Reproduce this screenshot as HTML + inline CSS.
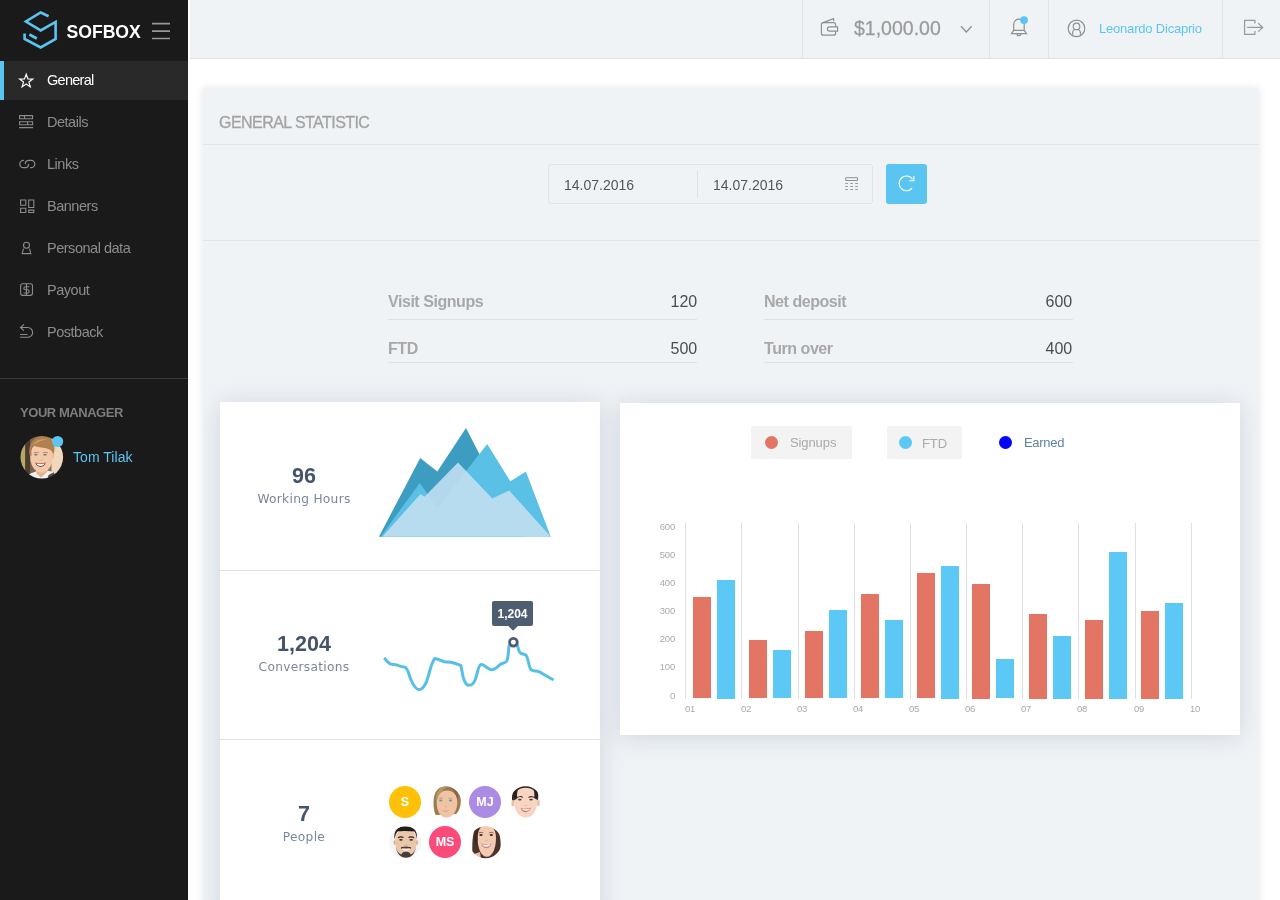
<!DOCTYPE html>
<html lang="en">
<head>
<meta charset="utf-8">
<title>Sofbox - General Statistic</title>
<style>
*{box-sizing:border-box;margin:0;padding:0}
html,body{width:1280px;height:900px;overflow:hidden;background:#fff;font-family:"Liberation Sans",sans-serif;}
.abs{position:absolute}
#sidebar{position:absolute;left:0;top:0;width:188px;height:900px;background:#1a1a1a;}
#brand{position:absolute;left:66.5px;top:22px;font-size:17.6px;line-height:20px;font-weight:bold;color:#fff;letter-spacing:0}
.nav{position:absolute;left:0;width:188px;height:39px;color:#8c8c8c;font-size:14.5px;}
.nav span{position:absolute;left:47px;top:0;line-height:39px;letter-spacing:-0.48px;white-space:nowrap}
.nav svg{position:absolute;left:18px;top:11px;width:17px;height:17px;overflow:visible}
.nav.active{background:#292929;color:#fff;border-left:4px solid #5bc5f2}
.nav.active span{left:43px;letter-spacing:-0.72px}
.nav.active svg{left:14px}
#sdiv{position:absolute;left:0;top:378px;width:188px;height:1px;background:#3a3a3a}
#ymgr{position:absolute;left:20px;top:403px;font-size:13px;line-height:20px;font-weight:bold;color:#7d7d7d;letter-spacing:-0.45px;white-space:nowrap}
#mname{position:absolute;left:73px;top:447px;font-size:14px;line-height:20px;color:#5bc5f2;letter-spacing:0.05px;white-space:nowrap}
#header{position:absolute;left:190px;top:0;width:1090px;height:59px;background:#f0f3f6;border-bottom:1px solid #dfe0e1}
.hdiv{position:absolute;top:0;width:1px;height:58px;background:#e1e2e3}
#money{position:absolute;left:854px;top:16px;font-size:19.5px;line-height:24px;color:#9a9a9a;white-space:nowrap;letter-spacing:0;-webkit-text-stroke:0.25px #9a9a9a}
#uname{position:absolute;left:1099px;top:20px;font-size:13px;line-height:18px;color:#5bc5f2;white-space:nowrap;letter-spacing:-0.2px}
#panel{position:absolute;left:203px;top:88px;width:1056px;height:830px;background:#f0f3f6;box-shadow:0 0 9px rgba(0,0,0,.10);border-radius:2px;overflow:hidden}
#ptitle{position:absolute;left:219px;top:112px;font-size:16px;line-height:22px;color:#a3a3a3;letter-spacing:-0.55px;-webkit-text-stroke:0.3px #a3a3a3;white-space:nowrap}
.pline{position:absolute;left:203px;width:1056px;height:1px;background:#e2e3e5}
#dates{position:absolute;left:548px;top:164px;width:325px;height:40px;border:1px solid #e2e2e3;border-radius:3px;background:#f0f3f6}
.dtxt{position:absolute;top:175px;font-size:14px;line-height:20px;color:#555;white-space:nowrap;letter-spacing:0}
#refresh{position:absolute;left:886px;top:164px;width:41px;height:40px;background:#5bc5f2;border-radius:3px}
.slabel{position:absolute;font-size:16px;line-height:20px;font-weight:bold;color:#a8a8a8;letter-spacing:-0.45px;white-space:nowrap}
.sval{position:absolute;font-size:16px;line-height:20px;color:#4d4d4d;text-align:right;width:60px;white-space:nowrap;letter-spacing:-0.1px}
.sline{position:absolute;height:1px;background:#dfe2e5;width:309px}
#lcard{position:absolute;left:17px;top:314px;width:380px;height:520px;background:#fff;box-shadow:0 2px 24px rgba(118,138,160,.27)}
#rcard{position:absolute;left:417px;top:315px;width:620px;height:332px;background:#fff;box-shadow:0 2px 24px rgba(118,138,160,.27)}
.cdiv{position:absolute;left:220px;width:380px;height:1px;background:#dfe3ea}
.big{position:absolute;left:254px;width:100px;text-align:center;font-size:21.5px;line-height:24px;font-weight:bold;color:#45546a;white-space:nowrap}
.small{position:absolute;left:244px;width:120px;text-align:center;font-family:"DejaVu Sans","Liberation Sans",sans-serif;font-size:12.2px;line-height:18px;color:#78879b;white-space:nowrap;letter-spacing:0.3px}
.av{position:absolute;width:32px;height:32px;border-radius:50%;overflow:hidden;color:#fff;font-weight:bold;font-size:12.5px;line-height:32px;text-align:center}
.leg{position:absolute;top:426px;height:33px;background:#f3f3f3;border-radius:2px}
.legt{position:absolute;top:435px;font-size:13px;line-height:16px;white-space:nowrap;letter-spacing:-0.1px}
.dot{position:absolute;width:13px;height:13px;border-radius:50%;top:436px}
</style>
</head>
<body>
<!-- SIDEBAR -->
<div id="sidebar"></div>
<svg class="abs" style="left:0;top:0" width="188" height="60" viewBox="0 0 188 60" fill="none">
  <g stroke="#5bc5f2" stroke-width="2.6" stroke-linejoin="miter" stroke-linecap="butt" fill="none">
    <path d="M48.6 16.200 L40.700 12.500 L25.900 21.500 L40.700 30.400 L55.600 21.900 L55.600 39 L40.700 47.400 L24.600 38.900 L24.600 33.600"/>
    <path d="M29.400 34.600 L36.800 38.400" stroke-width="2.800"/>
  </g>
  <g stroke="#969696" stroke-width="1.7">
    <path d="M152 23.7H170M152 31.2H170M152 38.5H170"/>
  </g>
</svg>
<div id="brand">SOFBOX</div>

<div class="nav active" style="top:61px"><svg viewBox="0 0 17 17" fill="none" stroke="#fff" stroke-width="1.2" stroke-linejoin="miter"><path d="M8.2 2.3 L9.9 6.9 L14.8 7.1 L10.9 10.1 L12.3 14.9 L8.2 12.1 L4.1 14.9 L5.5 10.1 L1.6 7.1 L6.5 6.9 Z"/></svg><span>General</span></div>
<div class="nav" style="top:103px"><svg viewBox="0 0 17 17" fill="none" stroke="#8c8c8c" stroke-width="1.1"><path d="M1.6 1.6H14.6V4.8H1.6ZM6.5 1.6V4.8M1.6 7.8H14.6V10.8H1.6ZM9.6 7.8V10.8M1.1 13.6H15.1"/></svg><span>Details</span></div>
<div class="nav" style="top:145px"><svg viewBox="0 0 17 17" fill="none" stroke="#8c8c8c" stroke-width="1.2" stroke-linecap="round"><path d="M5.6 4.3 A3.7 3.7 0 0 0 5.4 11.7 H8.2 A3.3 3.5 0 0 0 10.6 8.3"/><path d="M7.3 7.7 A3.4 3.4 0 0 1 10.7 4.3 H13.1 A3.7 3.7 0 0 1 13.1 11.7 H12.6"/></svg><span>Links</span></div>
<div class="nav" style="top:187px"><svg viewBox="0 0 17 17" fill="none" stroke="#8c8c8c" stroke-width="1.1"><path d="M2.6 2H7.8V7.2H2.6ZM10.7 2H15.8V9.5H10.7ZM2.6 10.2H7.8V14.5H2.6ZM10.7 12.1H15.8V14.5H10.7Z"/></svg><span>Banners</span></div>
<div class="nav" style="top:229px"><svg viewBox="0 0 17 17" fill="none" stroke="#8c8c8c" stroke-width="1.1"><circle cx="8.5" cy="5.3" r="3"/><path d="M5.5 8.6 L4.2 13.6 H12.8 L11.5 8.6"/></svg><span>Personal data</span></div>
<div class="nav" style="top:271px"><svg viewBox="0 0 17 17" fill="none" stroke="#8c8c8c" stroke-width="1.1"><rect x="2.65" y="1.75" width="11.8" height="11.6" rx="2"/><path d="M8.5 1.75V13.35M11.4 4.7H7.4A1.550 1.550 0 0 0 7.400 7.800H9.600A1.600 1.600 0 0 1 9.600 11H5.600"/></svg><span>Payout</span></div>
<div class="nav" style="top:313px"><svg viewBox="0 0 17 17" fill="none" stroke="#8c8c8c" stroke-width="1.1"><path d="M6 0.4L2.500 3.500L5.900 6.600M2.500 3.500H9.700A4.900 4.900 0 0 1 9.700 13.300H2.100M2.100 10.500H9.500"/></svg><span>Postback</span></div>

<div id="sdiv"></div>
<div id="ymgr">YOUR MANAGER</div>
<svg class="abs" style="left:20px;top:435px" width="46" height="46" viewBox="0 0 46 46">
  <defs><clipPath id="mclip"><circle cx="21.8" cy="22.2" r="21.3"/></clipPath>
  <filter id="mb" x="-10%" y="-10%" width="120%" height="120%"><feGaussianBlur stdDeviation="0.45"/></filter></defs>
  <g clip-path="url(#mclip)"><g filter="url(#mb)">
    <rect x="-2" y="-2" width="50" height="50" fill="#8a735c"/>
    <rect x="-2" y="-2" width="7.2" height="50" fill="#b8a862"/>
    <rect x="5.2" y="-2" width="5.3" height="50" fill="#4b3d32"/>
    <rect x="10.500" y="-2" width="6" height="50" fill="#7d6650"/>
    <rect x="31.500" y="-2" width="16" height="50" fill="#f1d7bc"/>
    <path d="M3 46 L8 39.500 L17 36 L27 35.500 L33.500 37 L38 46Z" fill="#f1f0f0"/>
    <path d="M28.500 40 L33.800 37.200 L37 46 L27 46Z" fill="#5b4a40"/>
    <path d="M16 33 L16.500 38.500 L21 42.500 L27.500 36.500 L27.500 31Z" fill="#e2b08a"/>
    <path d="M10.400 20 C9.600 27 12.500 33 16.500 36 C19.500 38 23.500 38 26.500 36 C30.500 33 33.600 27 32.800 20 C32.600 12 28 8.500 21.600 8.500 C15 8.500 10.600 12 10.400 20Z" fill="#f3c9a9"/>
    <path d="M32.400 19.200 C34.400 18.600 34.600 22.500 32.600 24Z" fill="#eab594"/>
    <path d="M9.600 20.500 C8.200 11 12 3 20 1.200 C27 0 33.500 4 34.400 11 C34.800 15 34 18 33.200 20 C32.600 16.500 31 14.500 27 13.500 C22 12.500 17 12 13 10.500 C11.500 13 11 17 11.600 20.500Z" fill="#b27f4f"/>
    <path d="M13 10.500 C15 6 21 3 28 5 C24 4.500 17 6.500 13 10.500Z" fill="#d0a070"/>
    <path d="M13.800 18 C15 17.200 17.500 17.200 18.800 17.800M23 17.800 C24.300 17.200 26.800 17.200 28 18" stroke="#a9794f" stroke-width="0.8" fill="none"/>
    <ellipse cx="15.900" cy="19.700" rx="1.700" ry="0.850" fill="#6d7f8c"/><ellipse cx="25" cy="19.700" rx="1.700" ry="0.850" fill="#6d7f8c"/>
    <path d="M20 24.500 C20.500 25.600 22.500 25.600 23 24.500" stroke="#d9a583" stroke-width="0.8" fill="none"/>
    <path d="M15.300 27.600 C18 28.600 23 28.600 25.700 27.600 C25 30.500 23 32 20.500 32 C18 32 16 30.500 15.300 27.600Z" fill="#7a3a34"/>
    <path d="M16.300 28.300 C18.500 29 22.500 29 24.700 28.300 C24 30.300 22.500 31 20.500 31 C18.500 31 17 30.300 16.300 28.300Z" fill="#fbfbee"/>
  </g></g>
  <circle cx="37.600" cy="6.500" r="5.600" fill="#5bc5f2"/>
</svg>
<div id="mname">Tom Tilak</div>

<!-- HEADER -->
<div id="header"></div>
<div class="hdiv" style="left:802px"></div>
<div class="hdiv" style="left:989px"></div>
<div class="hdiv" style="left:1048px"></div>
<div class="hdiv" style="left:1222px"></div>
<svg class="abs" style="left:815px;top:10px" width="460" height="40" viewBox="815 10 460 40" fill="none" stroke="#8f8f8f" stroke-width="1.1">
  <!-- wallet -->
  <path d="M822.4 22.9 L833.6 18.7 V21.2" stroke-width="1.2"/>
  <path d="M835.6 26.8V24.7A2 2 0 0 0 833.6 22.7H823.4A2 2 0 0 0 821.4 24.7V33.2A2 2 0 0 0 823.4 35.2H833.6A2 2 0 0 0 835.6 33.2V31.3" stroke-width="1.2"/>
  <path d="M829.6 26.8H837.6V31.2H829.6A2.200 2.200 0 0 1 829.600 26.800Z" stroke-width="1.2"/>
  <!-- chevron -->
  <path d="M961 26.2 L966.3 32 L971.6 26.2" stroke-width="1.3"/>
  <!-- bell -->
  <path d="M1013.7 30.3V24.3A5.250 5.250 0 0 1 1024.200 24.300V30.300M1013.700 30.300H1024.200M1013.700 30.300L1011.400 33.700H1026.500L1024.200 30.300M1016.900 33.900A2 1.700 0 0 0 1020.900 33.900" stroke-width="1.2"/>
  <!-- user -->
  <circle cx="1076.5" cy="28.4" r="8.3" stroke-width="1.2"/>
  <circle cx="1076.5" cy="26.4" r="3.3" stroke-width="1.2"/>
  <path d="M1072.7 34.8V32.700C1072.700 31.400 1073.200 30.600 1074.100 30.100M1080.400 34.800V32.700C1080.400 31.400 1079.900 30.600 1079 30.100" stroke-width="1.2"/>
  <!-- logout -->
  <path d="M1254.9 23.6V20.400H1244.600V34.400H1254.900V31.100" stroke-width="1.25" stroke="#999"/>
  <path d="M1247.100 27.400H1262.500M1258.200 23.200L1262.700 27.400L1258.200 31.600" stroke-width="1.25" stroke="#999"/>
</svg>
<svg class="abs" style="left:1019px;top:15px" width="10" height="10"><circle cx="5" cy="5.1" r="3.95" fill="#5bc5f2"/></svg>
<div id="money">$1,000.00</div>
<div id="uname">Leonardo Dicaprio</div>

<!-- PANEL -->
<div id="panel"><div id="lcard"></div><div id="rcard"></div></div>
<div id="ptitle">GENERAL STATISTIC</div>
<div class="pline" style="top:144px"></div>
<div class="pline" style="top:240px"></div>
<div id="dates"></div>
<div class="abs" style="left:697px;top:171px;width:1px;height:27px;background:#dde0e3"></div>
<div class="dtxt" style="left:564px">14.07.2016</div>
<div class="dtxt" style="left:713px">14.07.2016</div>
<svg class="abs" style="left:843px;top:175px" width="18" height="18" viewBox="0 0 18 18" fill="none" stroke="#8f8f8f" stroke-width="1"><path d="M2.7 2.7H14.5V5.5H2.7Z"/><path d="M2.2 8.5H15M2.2 11.5H15M2.2 14.500H15" stroke-dasharray="2.8 2.2" stroke="#9c9c9c"/></svg>
<div id="refresh"><svg width="41" height="40" viewBox="0 0 41 40" fill="none" stroke="#fff" stroke-width="1.1"><path d="M26.56 15.16A7.400 7.400 0 1 0 26.170 24.160"/><path d="M27.900 12V16.700H23.200"/></svg></div>

<div class="slabel" style="left:388px;top:292px">Visit Signups</div>
<div class="sval" style="left:637px;top:292px">120</div>
<div class="sline" style="left:388px;top:319px"></div>
<div class="slabel" style="left:388px;top:339px">FTD</div>
<div class="sval" style="left:637px;top:339px">500</div>
<div class="sline" style="left:388px;top:362px"></div>
<div class="slabel" style="left:764px;top:292px">Net deposit</div>
<div class="sval" style="left:1012px;top:292px">600</div>
<div class="sline" style="left:764px;top:319px"></div>
<div class="slabel" style="left:764px;top:339px">Turn over</div>
<div class="sval" style="left:1012px;top:339px">400</div>
<div class="sline" style="left:764px;top:362px"></div>

<!-- LEFT CARD -->
<div class="cdiv" style="top:570px"></div>
<div class="cdiv" style="top:739px"></div>
<div class="big" style="top:464px">96</div>
<div class="small" style="top:490px">Working Hours</div>
<div class="big" style="top:632px">1,204</div>
<div class="small" style="top:658px">Conversations</div>
<div class="big" style="top:802px">7</div>
<div class="small" style="top:828px">People</div>

<svg class="abs" style="left:370px;top:420px" width="200" height="130" viewBox="370 420 200 130">
  <path d="M378.9 536.8 L420.2 458.1 L437.3 471.5 L466 428 L522 536.8Z" fill="#3d9dc1"/>
  <path d="M380.6 536.8 L419.8 483 L437.3 508 L487.2 444 L510.4 481.3 L525.9 471.5 L550.8 536.8Z" fill="#5ac0e6"/>
  <path d="M382.3 536.8 L420.5 493.9 L424.5 496.8 L458 462.4 L492.3 498.5 L509.2 490.4 L550.8 536.8Z" fill="#c4dff1" fill-opacity="0.88"/>
</svg>

<svg class="abs" style="left:370px;top:590px" width="200" height="120" viewBox="370 590 200 120">
  <path id="spark" d="M384.1 658 C386 659.5 387.5 662.6 390.3 663.8 C393 664.8 394.5 664.4 396.6 665 C400 666 402 667 405.2 667.3 C408 669 409 675 410.6 679 C413 684.6 416 689.7 419.2 689.7 C422.5 689.7 424.6 686 426.3 682.2 C429 675 431 663 434.8 658.4 C438 658.4 441 661 445 661.9 C448 662.2 450 662 452.8 662.7 C455.5 663.3 458 664.6 460.6 665.3 C462 668 462 675 463.8 679 C465 683 467 685.3 469.2 685.3 C472 685.3 474 683 475.5 679 C477 675 478 667 480.2 665 C482.5 663.5 484 665.5 485.6 666.6 C487.6 668 489.6 669.7 491.9 669.7 C495 669.7 498 666 500.5 664.2 C502.5 663 505 663.2 506.7 661.1 C508.6 658 508.2 650 509 646.3 C510 643 512 642.3 513.4 642.3 C515.5 642.3 517 643 517.7 646.3 C518.6 650 519 652.4 520.8 653.3 C522.8 654.3 524.8 653.6 526.3 655.6 C528.4 658.5 528.4 666 530.9 669.7 C532.6 671.3 535.6 670.6 538 671.3 C541 672.3 543.6 674.4 546.6 676 C549 677.4 551 678.8 553.6 679.8" fill="none" stroke="#55bfe8" stroke-width="3" stroke-linecap="butt" stroke-linejoin="round"/>
  <circle cx="513.4" cy="642.3" r="3.85" fill="#fff" stroke="#4d5d70" stroke-width="2.75"/>
  <path d="M494 601 H531 A2 2 0 0 1 533 603 V624 A2 2 0 0 1 531 626 H517.9 L513.1 630.8 L508.3 626 H494 A2 2 0 0 1 492 624 V603 A2 2 0 0 1 494 601Z" fill="#4e5e71"/>
  <text x="512.5" y="617.6" text-anchor="middle" font-family="Liberation Sans, sans-serif" font-size="12" font-weight="bold" fill="#fff">1,204</text>
</svg>

<!-- avatars -->
<div class="av" style="left:389px;top:786px;background:#fec107">S</div>
<div class="av" style="left:469px;top:786px;background:#ab8ce4">MJ</div>
<div class="av" style="left:429px;top:826px;background:#fb4b7a">MS</div>
<svg class="abs" style="left:429px;top:786px" width="33" height="33" viewBox="0 0 33 33"><defs><clipPath id="c1"><circle cx="16.400" cy="16.200" r="16"/></clipPath><filter id="fb" x="-10%" y="-10%" width="120%" height="120%"><feGaussianBlur stdDeviation="0.4"/></filter></defs><g clip-path="url(#c1)"><g filter="url(#fb)"><rect x="-2" y="-2" width="37" height="37" fill="#fcfcfc"/>
<path d="M6.500 29 C4 22 3.800 12 6.500 6.500 C9 1.500 14 -0.500 19 0 C25 0.500 30.500 5 31.600 12 C32.300 18 31 24 27.500 28 Z" fill="#9c7b50"/>
<path d="M7.700 17 C7.700 25 11.500 31.600 17.400 31.600 C23.500 31.600 28.300 25 28.300 16 C28.300 9 24 4.400 18 4.400 C12 4.400 7.700 9 7.700 17Z" fill="#f1c3a5"/>
<path d="M19.500 0.500 C15 2 9.500 7 7.500 16 C6 11 8 3 14 0.800Z" fill="#b8986a"/>
<path d="M19.500 0.500 C24 3 27.500 8 28.600 15 C30.500 10 28 2.500 22 0.500Z" fill="#86663f"/>
<path d="M9.800 12.700 C11 12 12.800 12 13.800 12.600M19.500 12.600 C20.500 12 22.300 12 23.500 12.700" stroke="#b08a62" stroke-width="0.7" fill="none"/>
<ellipse cx="11.800" cy="14.500" rx="1.700" ry="1" fill="#5e9ea4"/><ellipse cx="21.500" cy="14.500" rx="1.700" ry="1" fill="#5e9ea4"/>
<path d="M15.500 20.300 C16 21 17.500 21 18 20.300" stroke="#dba184" stroke-width="0.7" fill="none"/>
<path d="M13.200 24.200 C15 25 18.500 25 20.200 24.200 C19 26 14.500 26 13.200 24.200Z" fill="#dc7f8c"/>
</g></g></svg>
<svg class="abs" style="left:509px;top:786px" width="33" height="33" viewBox="0 0 33 33"><defs><clipPath id="c2"><circle cx="16.500" cy="16.200" r="16"/></clipPath></defs><g clip-path="url(#c2)"><g filter="url(#fb)"><rect x="-2" y="-2" width="37" height="37" fill="#fdfdfd"/>
<path d="M3.200 15 C2 7 6 0.500 13 0 C16 -0.300 19 -0.300 21 0 C27 0.500 30.500 6 29 14 L27 14 L6 14Z" fill="#2c2220"/>
<ellipse cx="3.900" cy="17.200" rx="1.500" ry="3.300" fill="#eebfa6"/><ellipse cx="29.300" cy="17" rx="1.500" ry="3.300" fill="#eebfa6"/>
<path d="M4.800 14 C4.800 24 9.500 31.500 16.600 31.500 C23.800 31.500 28.400 24 28.400 14 C28.400 6 24 1.800 16.600 1.800 C9.500 1.800 4.800 6 4.800 14Z" fill="#f6d6c2"/>
<path d="M4.700 14.500 C4.600 8 6 4 9.500 2.500 C8 5.500 7.800 9 8.200 12.500Z" fill="#2c2220"/>
<path d="M28.500 14 C28.600 8 27 4 24 2.500 C25.500 5.500 25.600 9 25.200 12Z" fill="#2c2220"/>
<path d="M7.800 11.600 C9.500 10.400 12.500 10.400 14 11.400M19.500 11.400 C21 10.400 24 10.400 25.500 11.600" stroke="#3a2c28" stroke-width="1.100" fill="none"/>
<ellipse cx="10.800" cy="13.600" rx="1.800" ry="0.900" fill="#4a3a38"/><ellipse cx="22" cy="13.600" rx="1.800" ry="0.900" fill="#4a3a38"/>
<path d="M15 19 C15.600 19.800 17.800 19.800 18.400 19" stroke="#e0b09a" stroke-width="0.700" fill="none"/>
<path d="M11.800 22 C14.500 23 19 23 21.800 21.600 C21 25 18.500 26.200 16.600 26.200 C14.500 26.200 12.500 25 11.800 22Z" fill="#c9746c"/>
<path d="M12.800 22.600 C15 23.400 18.800 23.300 20.800 22.400 C20 24.300 18.500 24.800 16.600 24.800 C14.800 24.800 13.500 24.300 12.800 22.600Z" fill="#fdf6f2"/>
</g></g></svg>
<svg class="abs" style="left:389px;top:826px" width="33" height="33" viewBox="0 0 33 33"><defs><clipPath id="c3"><circle cx="16.200" cy="16.200" r="16"/></clipPath></defs><g clip-path="url(#c3)"><g filter="url(#fb)"><rect x="-2" y="-2" width="37" height="37" fill="#f4f4f4"/>
<ellipse cx="5.800" cy="16.500" rx="1.200" ry="2.600" fill="#dcae90"/><ellipse cx="27.800" cy="16.500" rx="1.200" ry="2.600" fill="#dcae90"/>
<path d="M6.300 14 C6.300 24 10.500 31.300 17 31.300 C23.500 31.300 27.400 24 27.400 14 C27.400 7 23 3.500 17 3.500 C10.500 3.500 6.300 7 6.300 14Z" fill="#eac6ab"/>
<path d="M5.400 13.500 C4.800 6 7 0.200 17 0.200 C26 0.200 28.600 6 27.900 13 C27.300 10 26.800 7.500 25.500 5.600 C20 4.800 13 4.800 8.500 5.600 C7 7.500 6.200 10 5.400 13.500Z" fill="#241d1b"/>
<path d="M6.6 19 C7.5 28 11.5 31.8 17 31.8 C22.5 31.8 26.4 28 27.2 19 C26.4 24.5 24.5 27.5 21.8 28.4 C20.5 26.2 19 25.8 17 25.800 C15 25.800 13.500 26.200 12.200 28.400 C9.500 27.500 7.500 24.500 6.600 19Z" fill="#4a3b34"/>
<path d="M12 22 C13.500 20.800 20.500 20.800 22 22 C20.500 21.800 13.500 21.800 12 22Z" stroke="#4a3a33" stroke-width="1" fill="#4a3a33"/>
<path d="M13 22.600 C15 23.200 19 23.200 21 22.600 C20 24.600 18.500 25 17 25 C15.500 25 14 24.600 13 22.600Z" fill="#f7ecea"/>
<path d="M9 11.800 C10.500 10.800 13 10.800 14.500 11.600M19.500 11.600 C21 10.800 23.500 10.800 25 11.800" stroke="#2c2320" stroke-width="1.100" fill="none"/>
<ellipse cx="11.900" cy="13.800" rx="1.800" ry="0.900" fill="#3a2e2a"/><ellipse cx="22.200" cy="13.800" rx="1.800" ry="0.900" fill="#3a2e2a"/>
<path d="M15.500 18.800 C16 19.600 18.200 19.600 18.700 18.800" stroke="#d2a080" stroke-width="0.700" fill="none"/>
</g></g></svg>
<svg class="abs" style="left:469px;top:826px" width="33" height="33" viewBox="0 0 33 33"><defs><clipPath id="c4"><circle cx="16.500" cy="16.200" r="16"/></clipPath></defs><g clip-path="url(#c4)"><g filter="url(#fb)"><rect x="-2" y="-2" width="37" height="37" fill="#fbfbfb"/>
<path d="M3.500 30 C3 20 3 8 7 0 L27 0 C31.500 6 32.500 18 31 27 L26 33 L6 33Z" fill="#4b3429"/>
<path d="M4 33 L5 28 L11 26 L12 33Z" fill="#e9bfa4"/>
<path d="M8.600 12 C8.600 22 12 30.800 17.800 30.800 C23.500 30.800 27 22 27 12 C27 4 23 -2 17.800 -2 C12.500 -2 8.600 4 8.600 12Z" fill="#f2cbb2"/>
<path d="M8.500 14 C8 8 9 3 11.500 -1 L7 0 C5 5 5 12 6.500 20Z" fill="#3c2920"/>
<path d="M10 7 C11.200 6.200 13.200 6.200 14.300 6.900M20.200 6.900 C21.300 6.200 23.300 6.200 24.500 7" stroke="#6b4a38" stroke-width="0.800" fill="none"/>
<ellipse cx="12" cy="9" rx="1.700" ry="0.900" fill="#3d2b24"/><ellipse cx="22.300" cy="9" rx="1.700" ry="0.900" fill="#3d2b24"/>
<path d="M15.800 14 C16.300 14.800 18.400 14.800 18.900 14" stroke="#dba58a" stroke-width="0.700" fill="none"/>
<path d="M12.200 17.600 C15 18.600 19.500 18.600 22.300 17.400 C21.500 21 19 22.200 17.200 22.200 C15 22.200 13 21 12.200 17.600Z" fill="#cf7f80"/>
<path d="M13.200 18.200 C15.500 19 19.200 19 21.300 18 C20.500 20.300 19 20.800 17.200 20.800 C15.500 20.800 14 20.300 13.200 18.200Z" fill="#fbf3f0"/>
</g></g></svg>

<!-- RIGHT CARD -->
<div class="leg" style="left:751px;width:101px"></div>
<div class="leg" style="left:887px;width:75px"></div>
<div class="dot" style="left:765px;background:#e27564"></div>
<div class="dot" style="left:899px;background:#5bc8f5"></div>
<div class="dot" style="left:999px;background:#0303f8"></div>
<div class="legt" style="left:790px;color:#aaa">Signups</div>
<div class="legt" style="left:922px;top:436px;color:#aaa">FTD</div>
<div class="legt" style="left:1024px;color:#5d82a6;letter-spacing:-0.3px">Earned</div>

<svg class="abs" style="left:640px;top:510px" width="590" height="215" viewBox="640 510 590 215" shape-rendering="crispEdges">
  <g fill="#e0e0e0">
    <rect x="685" y="523" width="1" height="176"/><rect x="741" y="523" width="1" height="176"/><rect x="798" y="523" width="1" height="176"/><rect x="854" y="523" width="1" height="176"/><rect x="910" y="523" width="1" height="176"/><rect x="966" y="523" width="1" height="176"/><rect x="1022" y="523" width="1" height="176"/><rect x="1078" y="523" width="1" height="176"/><rect x="1135" y="523" width="1" height="176"/><rect x="1191" y="523" width="1" height="176"/>
  </g>
  <g fill="#e27564">
    <rect x="693" y="597" width="18" height="101"/>
    <rect x="749" y="640" width="18" height="58"/>
    <rect x="805" y="631" width="18" height="67"/>
    <rect x="861" y="594" width="18" height="104"/>
    <rect x="917" y="573" width="18" height="125"/>
    <rect x="972" y="584" width="18" height="115"/>
    <rect x="1029" y="614" width="18" height="85"/>
    <rect x="1085" y="620" width="18" height="79"/>
    <rect x="1141" y="611" width="18" height="88"/>
  </g>
  <g fill="#5bc8f5">
    <rect x="717" y="580" width="18" height="119"/>
    <rect x="773" y="650" width="18" height="48"/>
    <rect x="829" y="610" width="18" height="88"/>
    <rect x="885" y="620" width="18" height="78"/>
    <rect x="941" y="566" width="18" height="133"/>
    <rect x="996" y="659" width="18" height="39"/>
    <rect x="1053" y="636" width="18" height="63"/>
    <rect x="1109" y="552" width="18" height="147"/>
    <rect x="1165" y="603" width="18" height="96"/>
  </g>
  <g font-family="Liberation Sans, sans-serif" font-size="9.5" letter-spacing="-0.2" fill="#a9a9a9" text-anchor="end" shape-rendering="auto">
    <text x="675" y="530.300">600</text><text x="675" y="558.300">500</text><text x="675" y="586.300">400</text><text x="675" y="614.300">300</text><text x="675" y="642.300">200</text><text x="675" y="670.300">100</text><text x="675" y="698.800">0</text>
  </g>
  <g font-family="Liberation Sans, sans-serif" font-size="9.5" letter-spacing="-0.2" fill="#a9a9a9" shape-rendering="auto">
    <text x="685" y="712.200">01</text><text x="741" y="712.200">02</text><text x="797" y="712.200">03</text><text x="853" y="712.200">04</text><text x="909" y="712.200">05</text><text x="965" y="712.200">06</text><text x="1021" y="712.200">07</text><text x="1077" y="712.200">08</text><text x="1134" y="712.200">09</text><text x="1190" y="712.200">10</text>
  </g>
</svg>
</body>
</html>
